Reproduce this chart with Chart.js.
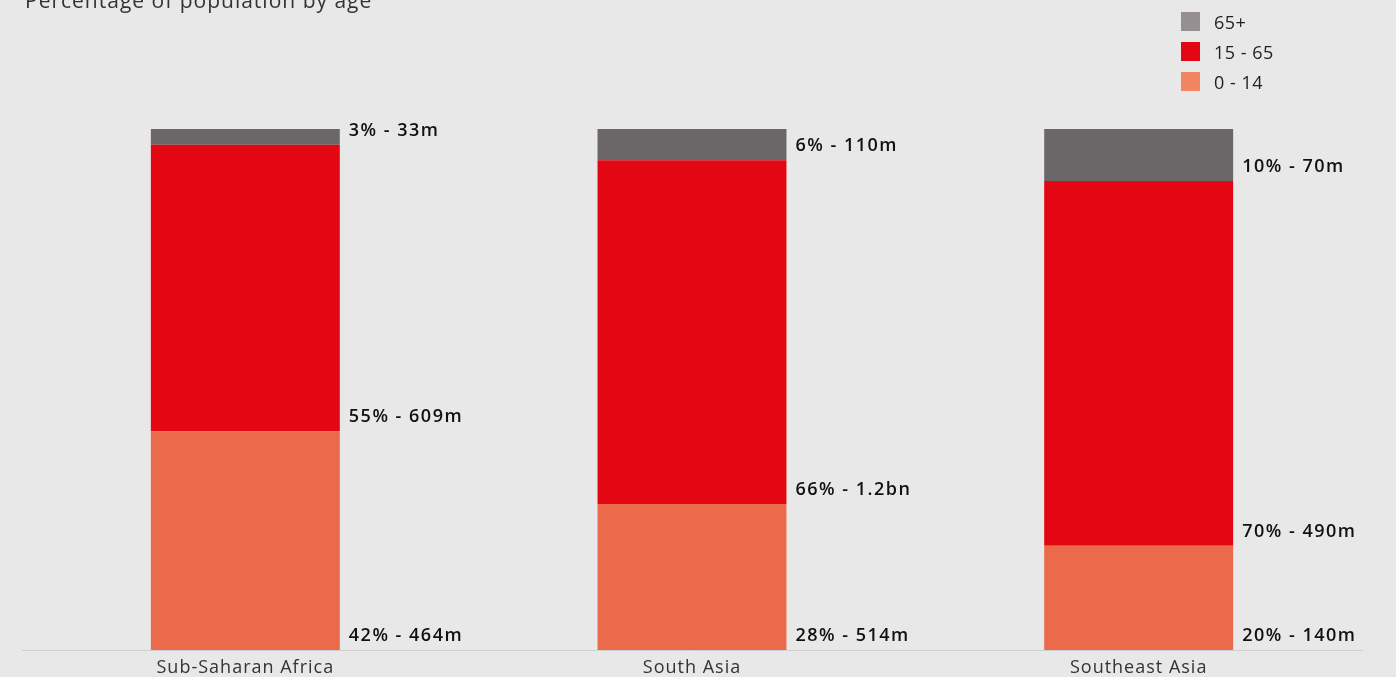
<!DOCTYPE html>
<html>
<head>
<meta charset="utf-8">
<script src="https://cdn.jsdelivr.net/npm/chart.js@4"></script>
<style>
    html, body { margin: 0; padding: 0; background: #e8e8e8; overflow: hidden; }
    #wrap { position: relative; width: 1396px; height: 677px; overflow: hidden; }
    #titulo {
        position: absolute; left: 25px; top: -14px;
        font: 400 21px "Open Sans", sans-serif; color: #333; letter-spacing: 1px;
    }
    #legenda {
        position: absolute; left: 1181px; top: 12px;
        list-style: none; margin: 0; padding: 0;
        font: 400 18px "Open Sans", sans-serif; color: #222; letter-spacing: 0.5px;
    }
    #legenda li { display: flex; align-items: center; height: 19px; margin-bottom: 11px; }
    #legenda span.box { width: 19px; height: 19px; margin-right: 14px; display: inline-block; }
</style>
</head>
<body>
<div id="wrap">
    <div id="titulo">Percentage of population by age</div>
    <ul id="legenda"></ul>
    <!-- canvas um pouco mais alto que a janela: os rótulos do eixo x ficam rente à borda -->
    <canvas id="popChart" width="1396" height="686"></canvas>
</div>
<script>
// regiões e faixas etárias
const regioes = ['Sub-Saharan Africa', 'South Asia', 'Southeast Asia'];

const pct0a14 = [42, 28, 20];
const pct15a65 = [55, 66, 70];
const pct65mais = [3, 6, 10];

const pop0a14 = ['464m', '514m', '140m'];
const pop15a65 = ['609m', '1.2bn', '490m'];
const pop65mais = ['33m', '110m', '70m'];

// cores das barras e (mais claras) da legenda
const corLaranja = '#ec6a4c';
const corVermelho = '#e30713';
const corCinza = '#6b6668';
const legendaCores = { '0 - 14': '#f38462', '15 - 65': '#e30713', '65+': '#958f92' };

const fonte = '"Open Sans", sans-serif';

// espaçamento das letras dos ticks (a fonte original é mais larga)
const espacoLetras = {
    id: 'espacoLetras',
    beforeDraw(chart) {
        chart.ctx.letterSpacing = '1px';
    }
};

// escreve "xx% - pop" à direita de cada segmento, logo acima da base dele
const rotulosBarras = {
    id: 'rotulosBarras',
    afterDatasetsDraw(chart) {
        const ctx = chart.ctx;
        ctx.save();
        ctx.font = `600 18px ${fonte}`;
        ctx.letterSpacing = '1.5px';
        ctx.fillStyle = '#111';
        ctx.textAlign = 'left';
        ctx.textBaseline = 'alphabetic';
        chart.data.datasets.forEach((ds, i) => {
            const meta = chart.getDatasetMeta(i);
            meta.data.forEach((bar, j) => {
                const texto = `${ds.data[j]}% - ${ds.pop[j]}`;
                ctx.fillText(texto, bar.x + bar.width / 2 + 9, bar.base - 9);
            });
        });
        ctx.restore();
    }
};

// legenda em HTML, na ordem de cima para baixo
const legendaHtml = {
    id: 'legendaHtml',
    afterUpdate(chart) {
        const ul = document.getElementById('legenda');
        ul.innerHTML = '';
        chart.data.datasets.slice().reverse().forEach((ds) => {
            const li = document.createElement('li');
            li.innerHTML = `<span class="box" style="background:${legendaCores[ds.label]}"></span>${ds.label}`;
            ul.appendChild(li);
        });
    }
};

const ctx = document.getElementById('popChart').getContext('2d');
const popChart = new Chart(ctx, {
    type: 'bar',
    data: {
        labels: regioes,
        datasets: [
            { label: '0 - 14', data: pct0a14, pop: pop0a14, backgroundColor: corLaranja },
            { label: '15 - 65', data: pct15a65, pop: pop15a65, backgroundColor: corVermelho },
            { label: '65+', data: pct65mais, pop: pop65mais, backgroundColor: corCinza }
        ]
    },
    options: {
        responsive: false,
        animation: false,
        layout: { padding: { top: 129, left: 22, right: 34, bottom: 0 } },
        datasets: { bar: { categoryPercentage: 1, barPercentage: 0.423, borderWidth: 0 } },
        scales: {
            x: {
                stacked: true,
                grid: { display: false, drawTicks: false },
                border: { display: true, color: '#cfcfcf', width: 1 },
                ticks: { color: '#333', font: { family: fonte, size: 18, lineHeight: 1 }, padding: 9 }
            },
            y: {
                stacked: true,
                display: false,
                min: 0,
                max: 100
            }
        },
        plugins: {
            legend: { display: false },
            tooltip: { enabled: false }
        }
    },
    plugins: [espacoLetras, rotulosBarras, legendaHtml]
});
</script>
</body>
</html>
